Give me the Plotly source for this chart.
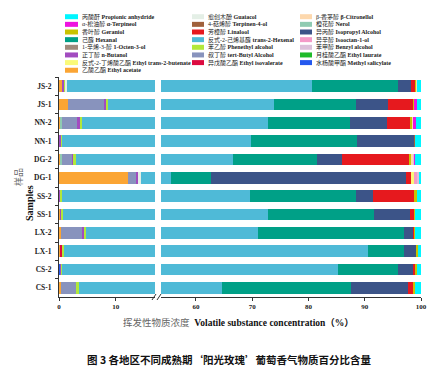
import plotly.graph_objects as go

# ---------------- data ----------------
samples = ["JS-2", "JS-1", "NN-2", "NN-1", "DG-2", "DG-1",
           "SS-2", "SS-1", "LX-2", "LX-1", "CS-2", "CS-1"]

ethyl_acetate      = [0.6, 1.5, 0.2, 0, 0.3, 12.2, 0, 0.3, 0.35, 0.35, 0, 0.35]
methyl_salicylate  = [0, 0, 0, 0, 0, 0, 0, 0, 0, 0, 0.3, 0]
nerol              = [0, 0, 0.3, 0, 0.2, 0, 0, 0, 0, 0, 0, 0]
tert_butyl_alcohol = [0, 6.5, 2.7, 0, 1.8, 1.5, 0, 0, 3.7, 0, 0, 2.7]
n_butanol          = [0.4, 0.3, 0.45, 0.4, 0.25, 0.3, 0.3, 0.2, 0.4, 0, 0.1, 0]
ethyl_isovalerate  = [0, 0, 0, 0, 0, 0, 0, 0, 0, 0.25, 0, 0]
phenethyl_alcohol  = [0.2, 0.35, 0.4, 0.2, 0.45, 0, 0.2, 0.25, 0.35, 0.25, 0.15, 0.4]
guaiacol           = [0.2, 0, 0, 0, 0, 0.5, 0, 0, 0, 0, 0, 0]
trans_2_hexenal    = [79.2, 65.25, 68.85, 69.2, 63.6, 41.0, 69.1, 72.15, 66.3, 89.65, 84.65, 61.25]
hexanal            = [15.4, 14.5, 14.4, 18.8, 15.0, 7.2, 18.8, 18.8, 25.8, 6.5, 10.7, 22.9]
isopropyl_alcohol  = [2.3, 5.7, 6.7, 10.2, 4.3, 34.6, 3.1, 6.3, 1.7, 2.2, 2.7, 10.1]
linalool           = [0.8, 4.5, 4.2, 0, 12.1, 1.0, 7.4, 0.8, 0.2, 0, 0.5, 0.9]
terpinen_4_ol      = [0, 0, 0, 0.2, 0, 0, 0, 0, 0, 0, 0, 0]
geraniol           = [0.15, 0.3, 0.3, 0, 0.3, 0, 0.3, 0.2, 0.2, 0.2, 0.25, 0.3]
citronellol        = [0.1, 0, 0.15, 0, 0.3, 0, 0, 0, 0, 0, 0, 0]
ethyl_butenate     = [0, 0, 0, 0, 0, 0.5, 0, 0, 0, 0, 0, 0]
octen_3_ol         = [0, 0, 0, 0, 0, 0, 0, 0, 0, 0, 0, 0]
isooctanol         = [0, 0, 0, 0, 0, 0.4, 0, 0, 0, 0, 0, 0]
benzyl_alcohol     = [0, 0, 0, 0, 0.2, 0.5, 0, 0, 0, 0, 0, 0]
alpha_terpineol    = [0, 0.35, 0.45, 0, 0.2, 0, 0, 0, 0, 0, 0, 0]
ethyl_laurate      = [0, 0, 0, 0, 0, 0, 0, 0, 0, 0, 0, 0]
propionic_anhydride = [0.65, 0.75, 0.9, 1.0, 1.0, 0.3, 0.8, 1.0, 1.0, 0.6, 0.65, 1.1]

x_ticks_left = [0, 10]
x_ticks_right = [60, 70, 80, 90, 100]

# (chinese name, english name, values) in stacking order
stack = [
    ("乙酸乙酯", "Ethyl acetate", ethyl_acetate),
    ("水杨酸甲酯", "Methyl salicylate", methyl_salicylate),
    ("橙花醇", "Nerol", nerol),
    ("叔丁醇", "tert-Butyl Alcohol", tert_butyl_alcohol),
    ("正丁醇", "n-Butanol", n_butanol),
    ("异戊酸乙酯", "Ethyl isovalerate", ethyl_isovalerate),
    ("苯乙醇", "Phenethyl alcohol", phenethyl_alcohol),
    ("愈创木酚", "Guaiacol", guaiacol),
    ("反式-2-己烯基醛", "trans-2-Hexenal", trans_2_hexenal),
    ("己醛", "Hexanal", hexanal),
    ("异丙醇", "Isopropyl Alcohol", isopropyl_alcohol),
    ("芳樟醇", "Linalool", linalool),
    ("4-萜烯醇", "Terpinen-4-ol", terpinen_4_ol),
    ("香叶醇", "Geraniol", geraniol),
    ("β-香茅醇", "β-Citronellol", citronellol),
    ("反式-2-丁烯酸乙酯", "Ethyl trans-2-butenate", ethyl_butenate),
    ("1-辛烯-3-醇", "1-Octen-3-ol", octen_3_ol),
    ("异辛醇", "Isooctan-1-ol", isooctanol),
    ("苯甲醇", "Benzyl alcohol", benzyl_alcohol),
    ("α-松油醇", "α-Terpineol", alpha_terpineol),
    ("月桂酸乙酯", "Ethyl laurate", ethyl_laurate),
    ("丙酸酐", "Propionic anhydride", propionic_anhydride),
]

# legend layout (columns)
legend_cols = [
    ["Propionic anhydride", "α-Terpineol", "Geraniol", "Hexanal", "1-Octen-3-ol",
     "n-Butanol", "Ethyl trans-2-butenate", "Ethyl acetate"],
    ["Guaiacol", "Terpinen-4-ol", "Linalool", "trans-2-Hexenal", "Phenethyl alcohol",
     "tert-Butyl Alcohol", "Ethyl isovalerate"],
    ["β-Citronellol", "Nerol", "Isopropyl Alcohol", "Isooctan-1-ol", "Benzyl alcohol",
     "Ethyl laurate", "Methyl salicylate"],
]

# ---------------- styles ----------------
colors = {
    "Propionic anhydride": "#00f6ff",
    "α-Terpineol": "#ee12e0",
    "Geraniol": "#c9c300",
    "Hexanal": "#00a087",
    "1-Octen-3-ol": "#a08a7c",
    "n-Butanol": "#a24cc0",
    "Ethyl trans-2-butenate": "#fafa78",
    "Ethyl acetate": "#fba534",
    "Guaiacol": "#e4efe6",
    "Terpinen-4-ol": "#a0613c",
    "Linalool": "#e6191e",
    "trans-2-Hexenal": "#4fbad7",
    "Phenethyl alcohol": "#b2e83a",
    "tert-Butyl Alcohol": "#8893bd",
    "Ethyl isovalerate": "#dc0b40",
    "β-Citronellol": "#fdd8ad",
    "Nerol": "#8fcbb2",
    "Isopropyl Alcohol": "#3c5488",
    "Isooctan-1-ol": "#f49ac8",
    "Benzyl alcohol": "#dcc0da",
    "Ethyl laurate": "#1fbb2a",
    "Methyl salicylate": "#2458ee",
}

W, H = 443, 379
L, R, T, B = 59, 22, 77, 82
PW, PH = W - L - R, H - T - B


def px(xp):
    return (xp - L) / PW


def py(yp):
    return (H - B - yp) / PH


fig = go.Figure()
for cn, en, vals in stack:
    for xa in ("x", "x2"):
        fig.add_trace(go.Bar(
            y=samples, x=vals, orientation="h", name=f"{cn} {en}",
            marker=dict(color=colors[en], line=dict(width=0)),
            xaxis=xa, yaxis="y", showlegend=False,
        ))

serif = "Liberation Serif, Times New Roman, Noto Sans CJK SC"
tickfont = dict(family="Liberation Serif", size=7, color="#222", weight="bold")

axis_common = dict(showline=True, linecolor="#333", linewidth=1, ticks="outside",
                   ticklen=3, tickcolor="#333", tickfont=tickfont,
                   showgrid=False, zeroline=False, anchor="y", tickmode="array")

fig.update_layout(
    width=W, height=H, margin=dict(l=L, r=R, t=T, b=B),
    paper_bgcolor="white", plot_bgcolor="white",
    barmode="stack", bargap=0.37,
    xaxis=dict(domain=[0, 96 / PW], range=[0, 16.93], tickvals=x_ticks_left, **axis_common),
    xaxis2=dict(domain=[102 / PW, 1], range=[53.8, 100], tickvals=x_ticks_right, **axis_common),
    yaxis=dict(autorange="reversed", type="category", showline=True, linecolor="#333",
               linewidth=1, ticks="outside", ticklen=3, tickcolor="#333",
               tickson="boundaries", ticklabelstandoff=5,
               tickfont=dict(family="Liberation Serif", size=7.5, color="#222", weight="bold"),
               showgrid=False, zeroline=False, anchor="x"),
    showlegend=False,
)

shapes = []
annotations = []

# custom legend
row_y = [16.7 + 7.65 * i for i in range(8)]
col_sw = [(65, 78), (192, 204), (300, 312)]
col_tx = [80, 206, 314]
name_cn = {en: cn for cn, en, _ in stack}
for ci, col in enumerate(legend_cols):
    for ri, en in enumerate(col):
        yc = row_y[ri]
        shapes.append(dict(type="rect", xref="paper", yref="paper",
                           x0=px(col_sw[ci][0]), x1=px(col_sw[ci][1]),
                           y0=py(yc + 2.5), y1=py(yc - 2.5),
                           fillcolor=colors[en], line=dict(width=0)))
        annotations.append(dict(xref="paper", yref="paper", x=px(col_tx[ci]), y=py(yc),
                                xanchor="left", yanchor="middle", showarrow=False,
                                text=f"{name_cn[en]} <b>{en}</b>",
                                font=dict(family=serif, size=6, color="#222")))

# axis-break marks
for x0 in (152, 157):
    shapes.append(dict(type="line", xref="paper", yref="paper",
                       x0=px(x0), y0=py(300), x1=px(x0 + 4), y1=py(294),
                       line=dict(color="#333", width=1)))

# y-axis title
annotations.append(dict(xref="paper", yref="paper", x=px(18), y=py(177), showarrow=False,
                        text="样品", textangle=-90, xanchor="center", yanchor="middle",
                        font=dict(family="Noto Sans CJK SC", size=9, color="#666")))
annotations.append(dict(xref="paper", yref="paper", x=px(29), y=py(203), showarrow=False,
                        text="<b>Samples</b>", textangle=-90, xanchor="center", yanchor="middle",
                        font=dict(family="Liberation Serif", size=10, color="#111")))

# x-axis title
annotations.append(dict(xref="paper", yref="paper", x=px(238), y=py(322), showarrow=False,
                        xanchor="center", yanchor="middle",
                        text="<span style='color:#666'>挥发性物质浓度</span>  "
                             "<b>Volatile substance concentration（%）</b>",
                        font=dict(family=serif, size=9.5, color="#111")))

# caption
annotations.append(dict(xref="paper", yref="paper", x=px(228.5), y=py(359), showarrow=False,
                        xanchor="center", yanchor="middle",
                        text="<b>图 3 各地区不同成熟期‘阳光玫瑰’葡萄香气物质百分比含量</b>",
                        font=dict(family="Noto Sans CJK SC", size=10.5, color="#111")))

fig.update_layout(shapes=shapes, annotations=annotations)
fig.write_html("out.html", config={"displayModeBar": False},
               post_script="document.body.style.margin='0';document.body.style.padding='0';")
